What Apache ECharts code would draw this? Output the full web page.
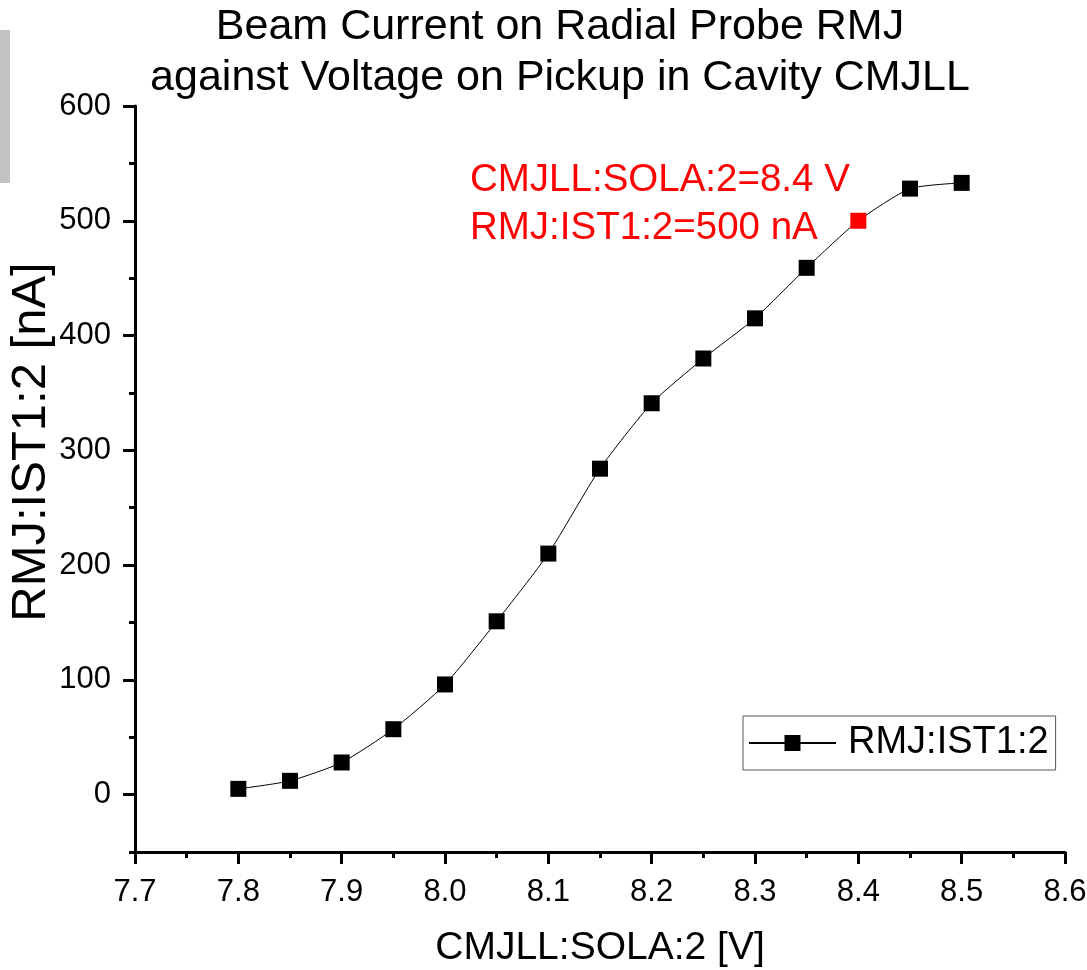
<!DOCTYPE html>
<html>
<head>
<meta charset="utf-8">
<script src="https://cdn.jsdelivr.net/npm/echarts@6/dist/echarts.min.js"></script>
<style>html,body{margin:0;padding:0;background:#fff;}#c{width:1087px;height:970px;}</style>
</head>
<body>
<div id="c"></div>
<script>
const voltage = [7.8, 7.85, 7.9, 7.95, 8.0, 8.05, 8.1, 8.15, 8.2, 8.25, 8.3, 8.35, 8.4, 8.45, 8.5];
const current = [5, 12, 28, 57, 96, 151, 210, 284, 341, 380, 415, 459, 500, 528, 533];
const highlightIndex = 12;
const yMajorTicks = [0, 100, 200, 300, 400, 500, 600];
const titleLines = ['Beam Current on Radial Probe RMJ', 'against Voltage on Pickup in Cavity CMJLL'];
const annotationLines = ['CMJLL:SOLA:2=8.4 V', 'RMJ:IST1:2=500 nA'];
const seriesName = 'RMJ:IST1:2';

const FONT = 'Liberation Sans, Arial, sans-serif';
const chart = echarts.init(document.getElementById('c'), null, {renderer: 'canvas'});

const data = voltage.map((v, i) => {
  const item = {value: [v, current[i]]};
  if (i === highlightIndex) item.itemStyle = {color: '#ff0000'};
  return item;
});

chart.setOption({
  animation: false,
  backgroundColor: '#fff',
  title: {
    text: titleLines.join('\n'),
    left: 560,
    textAlign: 'center',
    top: 2,
    padding: 0,
    textStyle: {fontFamily: FONT, fontSize: 43, fontWeight: 'normal', color: '#000', lineHeight: 51}
  },
  graphic: [
    {type: 'rect', left: 0, top: 30, shape: {width: 10, height: 153}, style: {fill: '#c3c3c3'}},
    {type: 'text', left: 470, top: 156, style: {text: annotationLines.join('\n'), fill: '#ff0000', font: '38.5px ' + FONT, lineHeight: 48}}
  ],
  legend: {
    left: 743, top: 716,
    orient: 'vertical',
    padding: [8, 7, 8, 5],
    borderColor: '#555', borderWidth: 1,
    itemWidth: 87, itemHeight: 20,
    textStyle: {fontFamily: FONT, fontSize: 38, color: '#000', padding: [0, 0, 0, 7]},
    data: [{name: seriesName}]
  },
  grid: {left: 135, right: 22, top: 106, bottom: 118, containLabel: false, outerBoundsMode: 'none'},
  xAxis: {
    type: 'value', min: 7.7, max: 8.6, interval: 0.1,
    name: 'CMJLL:SOLA:2 [V]', nameLocation: 'middle', nameGap: 77, nameMoveOverlap: false,
    nameTextStyle: {fontFamily: FONT, fontSize: 39, color: '#000'},
    axisLine: {onZero: false, lineStyle: {color: '#000', width: 3}},
    axisTick: {show: true, inside: false, length: 12, lineStyle: {color: '#000', width: 3}},
    minorTick: {show: true, splitNumber: 2, length: 6, lineStyle: {color: '#000', width: 3}},
    axisLabel: {fontFamily: FONT, fontSize: 31, color: '#000', margin: 25, formatter: v => v.toFixed(1), showMinLabel: true, showMaxLabel: true},
    splitLine: {show: false}
  },
  yAxis: [
    {
      type: 'value', min: -50, max: 600, position: 'left',
      name: 'RMJ:IST1:2 [nA]', nameLocation: 'middle', nameGap: 79, nameRotate: 90, nameMoveOverlap: false,
      nameTextStyle: {fontFamily: FONT, fontSize: 49, color: '#000', padding: [0, 0, 0, 74]},
      axisLine: {show: true, onZero: false, lineStyle: {color: '#000', width: 3}},
      axisTick: {show: true, inside: false, length: 12, customValues: yMajorTicks, lineStyle: {color: '#000', width: 3}},
      axisLabel: {fontFamily: FONT, fontSize: 31, color: '#000', margin: 24, customValues: yMajorTicks},
      splitLine: {show: false}
    },
    {
      type: 'value', min: -50, max: 600, interval: 50, position: 'left', offset: 0,
      axisLine: {show: false},
      axisTick: {show: true, inside: false, length: 6, lineStyle: {color: '#000', width: 3}},
      axisLabel: {show: false},
      splitLine: {show: false}
    }
  ],
  series: [{
    name: seriesName,
    type: 'line',
    yAxisIndex: 0,
    data: data,
    smooth: 0.2,
    symbol: 'rect',
    symbolSize: 16,
    showAllSymbol: true,
    lineStyle: {color: '#000', width: 1},
    itemStyle: {color: '#000'}
  }]
});
</script>
</body>
</html>
